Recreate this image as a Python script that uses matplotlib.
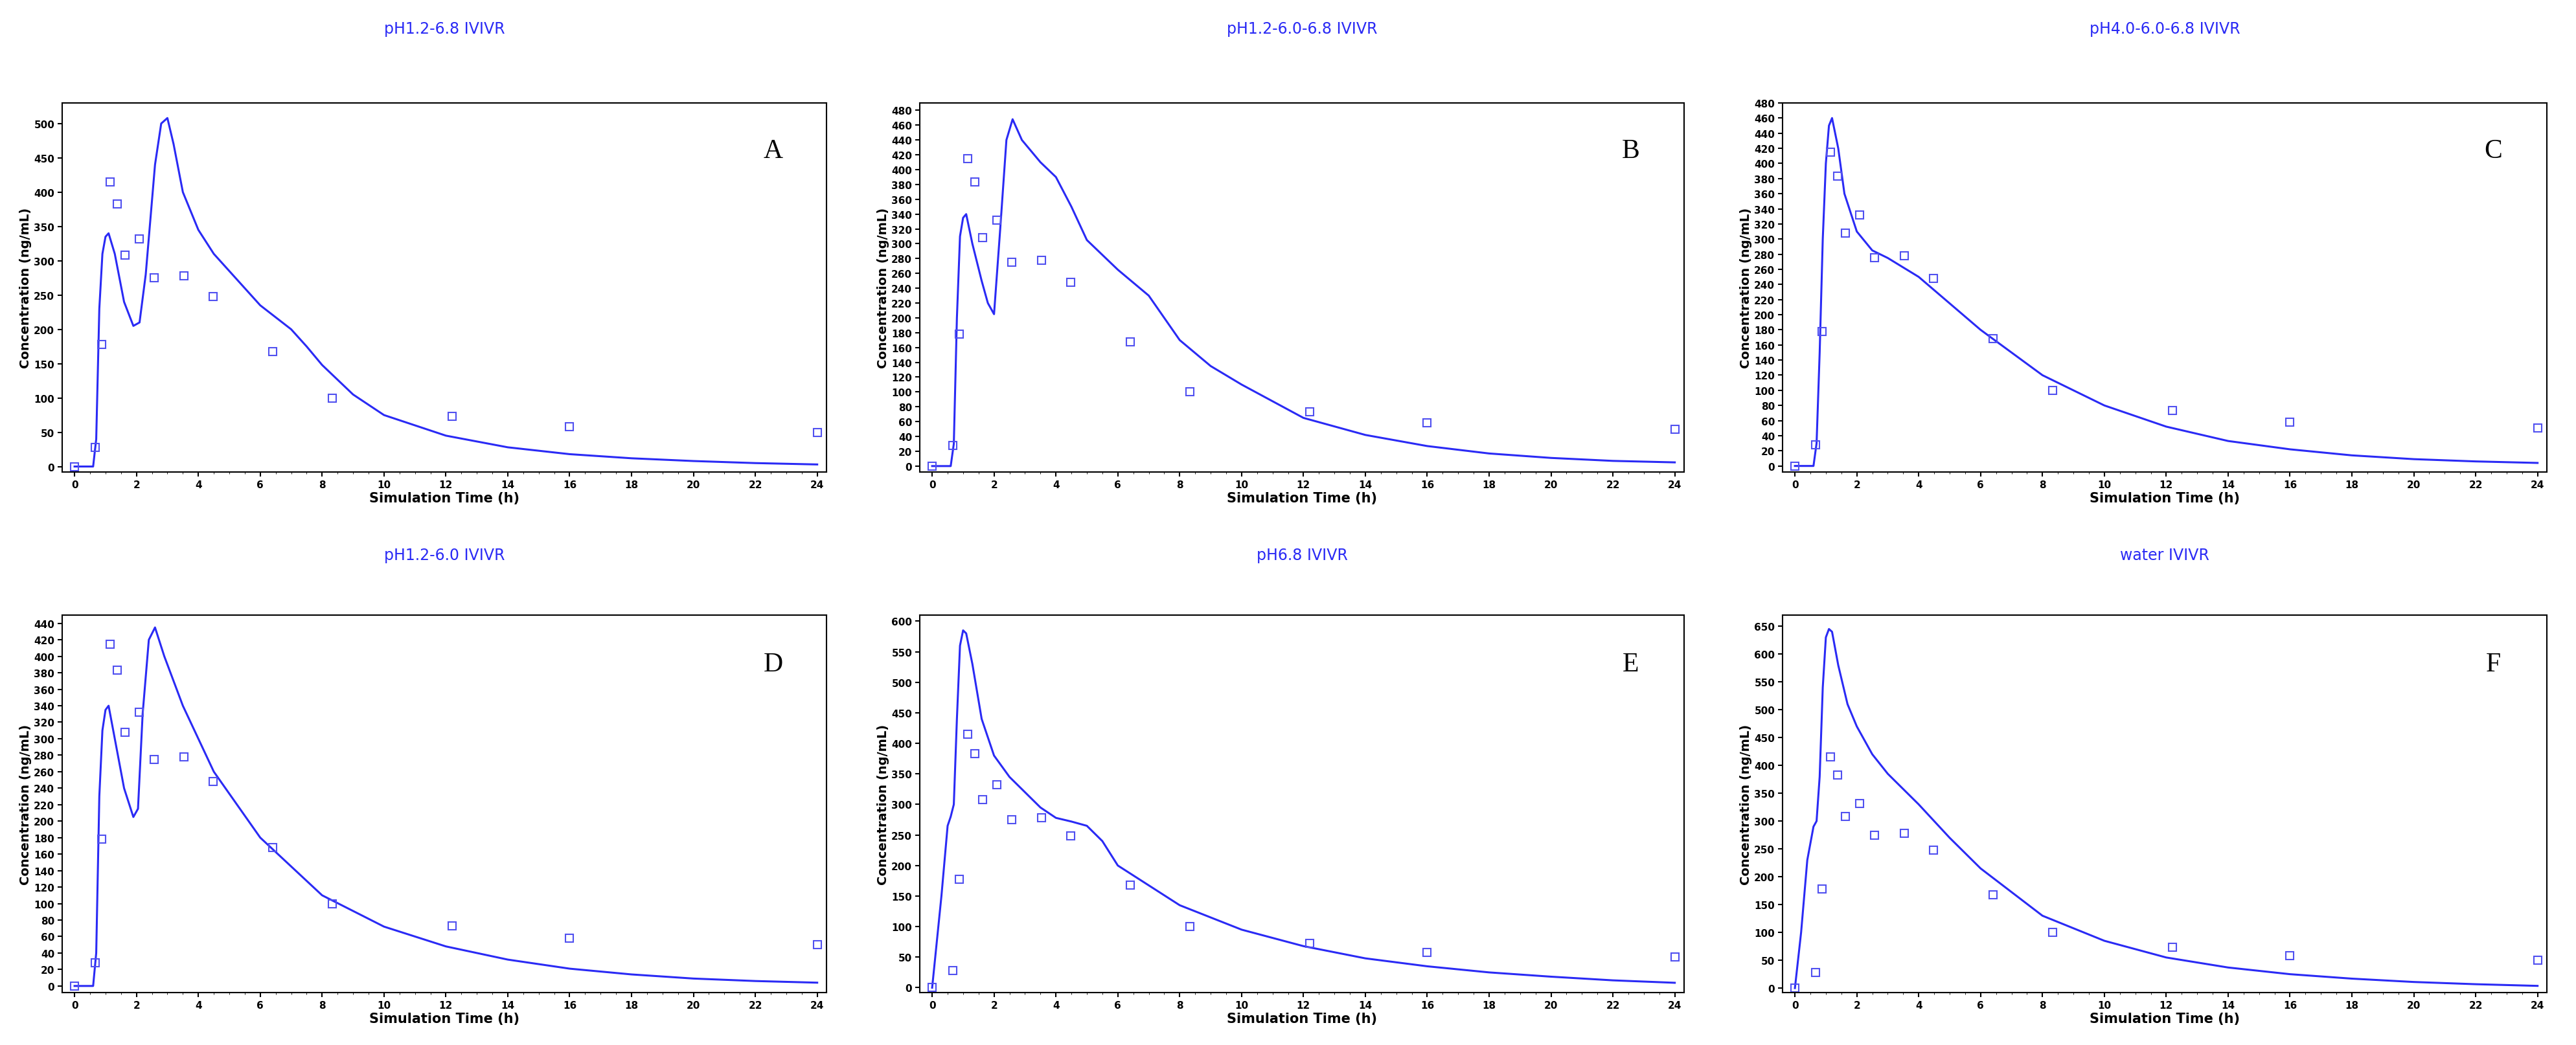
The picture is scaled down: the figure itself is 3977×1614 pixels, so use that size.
import matplotlib
matplotlib.use("Agg")
import matplotlib.pyplot as plt
from matplotlib.ticker import MultipleLocator

obs_t = [0, 0.67, 0.87, 1.15, 1.37, 1.62, 2.1, 2.57, 3.53, 4.47, 6.4, 8.33, 12.2, 16, 24]
obs_c = [0, 28, 178, 415, 383, 308, 332, 275, 278, 248, 168, 100, 73, 58, 50]

tA = [0,0.6,0.7,0.8,0.9,1.0,1.1,1.3,1.6,1.9,2.1,2.3,2.6,2.8,3.0,3.2,3.5,4,4.5,5,6,7,7.5,8,9,10,12,14,16,18,20,22,24]
cA = [0,0,40,230,310,335,340,310,240,205,210,280,440,500,508,470,400,345,310,285,235,200,175,148,105,75,45,28,18,12,8,5,3]
tB = [0,0.6,0.7,0.8,0.9,1.0,1.1,1.3,1.6,1.8,2.0,2.2,2.4,2.6,2.9,3.5,4,4.5,5,6,7,8,9,10,12,14,16,18,20,22,24]
cB = [0,0,30,200,310,335,340,300,250,220,205,320,440,468,440,410,390,350,305,265,230,170,135,110,65,42,27,17,11,7,5]
tC = [0,0.6,0.7,0.8,0.9,1.0,1.1,1.2,1.4,1.6,2,2.5,3,4,5,6,8,10,12,14,16,18,20,22,24]
cC = [0,0,30,150,300,400,450,460,420,360,310,285,275,250,215,180,120,80,52,33,22,14,9,6,4]
tD = [0,0.6,0.7,0.8,0.9,1.0,1.1,1.3,1.6,1.9,2.05,2.2,2.4,2.6,2.9,3.5,4.5,6,8,10,12,14,16,18,20,22,24]
cD = [0,0,40,230,310,335,340,300,240,205,215,330,420,435,400,340,260,180,110,72,48,32,21,14,9,6,4]
tE = [0,0.3,0.5,0.6,0.7,0.8,0.9,1.0,1.1,1.3,1.6,2,2.5,3,3.5,4,4.5,5,5.5,6,8,10,12,14,16,18,20,22,24]
cE = [0,150,265,280,300,440,560,585,580,530,440,380,345,320,295,278,272,265,240,200,135,95,68,48,35,25,18,12,8]
tF = [0,0.2,0.4,0.6,0.7,0.8,0.9,1.0,1.1,1.2,1.4,1.7,2,2.5,3,4,5,6,8,10,12,14,16,18,20,22,24]
cF = [0,100,230,290,300,380,540,630,645,640,580,510,470,420,385,330,270,215,130,85,55,37,25,17,11,7,4]

titles = ["pH1.2-6.8 IVIVR", "pH1.2-6.0-6.8 IVIVR", "pH4.0-6.0-6.8 IVIVR",
          "pH1.2-6.0 IVIVR", "pH6.8 IVIVR", "water IVIVR"]
letters = ["A", "B", "C", "D", "E", "F"]
curves = [(tA, cA), (tB, cB), (tC, cC), (tD, cD), (tE, cE), (tF, cF)]
ystep = [50, 20, 20, 20, 50, 50]
ymax = [530, 490, 480, 450, 610, 670]
ytop = [500, 480, 480, 440, 600, 650]

W, H = 3977, 1615
fig = plt.figure(figsize=(W/100, H/100), dpi=100)
lefts = [96, 1420, 2752]
width = 1180
rows = [(160, 730), (951, 1534)]
blue = "#2a2af5"
for i in range(6):
    r, c = divmod(i, 3)
    top, bot = rows[r]
    ax = fig.add_axes([lefts[c]/W, 1-bot/H, width/W, (bot-top)/H])
    t, v = curves[i]
    ax.plot(t, v, color=blue, lw=2.2)
    ax.plot(obs_t, obs_c, ls="none", marker="s", mfc="none", mec="#5050f0", ms=9, mew=1.5)
    ax.set_xlim(-0.4, 24.3)
    ax.set_ylim(-8, ymax[i])
    ax.xaxis.set_major_locator(MultipleLocator(2))
    ax.xaxis.set_minor_locator(MultipleLocator(0.5))
    ax.set_yticks(list(range(0, ytop[i]+1, ystep[i])))
    ax.tick_params(labelsize=11, width=1.5, length=5)
    for lab in ax.get_xticklabels() + ax.get_yticklabels():
        lab.set_fontweight("bold")
    ax.set_xlabel("Simulation Time (h)", fontsize=15, fontweight="bold", labelpad=2)
    ax.set_ylabel("Concentration (ng/mL)", fontsize=14, fontweight="bold", labelpad=2)
    ax.text(0.93, 0.87, letters[i], transform=ax.transAxes, fontsize=30,
            family="Liberation Serif", ha="center", va="center")
    for s in ax.spines.values():
        s.set_linewidth(1.5)
    ax.set_title(titles[i], color=blue, fontsize=17, pad=78 if r == 0 else 62)
fig.savefig("out.png", dpi=100, facecolor="white")
